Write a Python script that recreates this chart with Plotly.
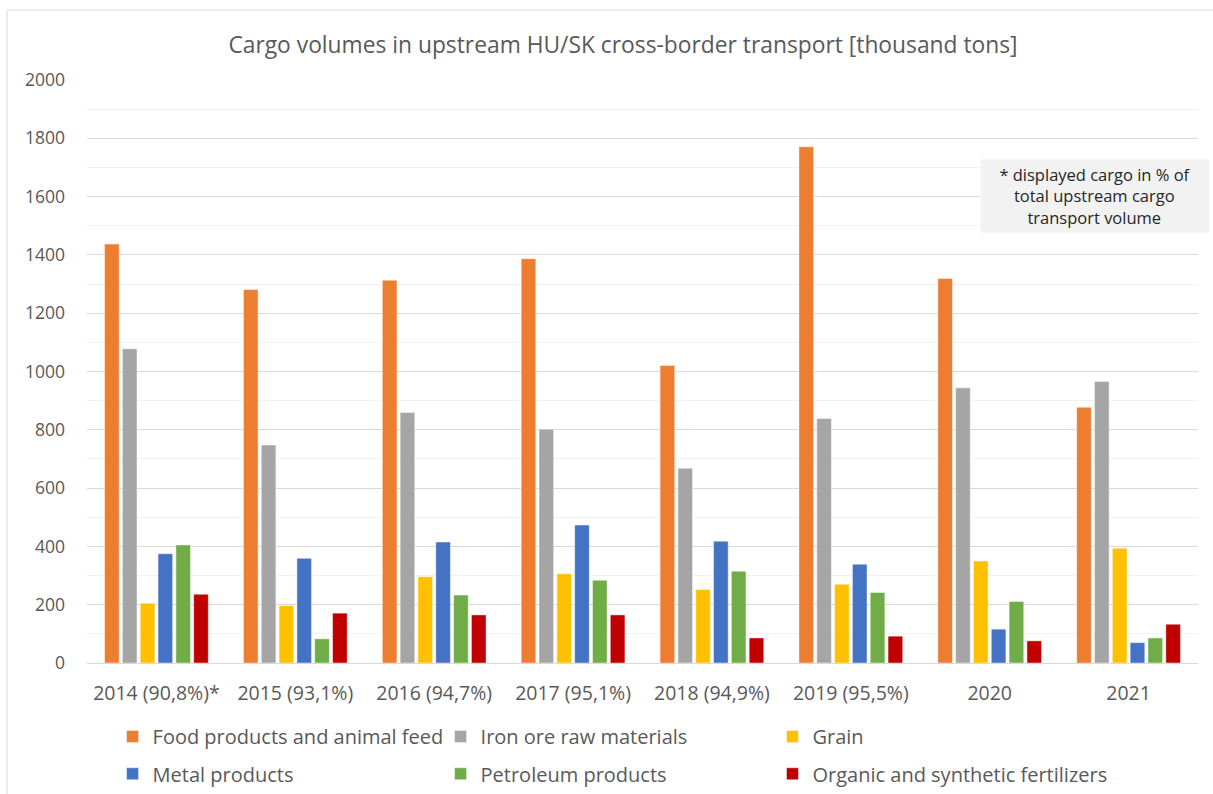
import plotly.graph_objects as go

categories = ["2014 (90,8%)*", "2015 (93,1%)", "2016 (94,7%)", "2017 (95,1%)",
              "2018 (94,9%)", "2019 (95,5%)", "2020", "2021"]

food = [1437, 1281, 1313, 1387, 1021, 1771, 1319, 877]
iron = [1078, 748, 859, 802, 668, 839, 944, 966]
grain = [205, 197, 296, 306, 252, 270, 350, 394]
metal = [375, 359, 415, 473, 418, 339, 116, 70]
petroleum = [405, 83, 233, 284, 315, 242, 211, 86]
fertilizers = [236, 171, 165, 165, 86, 92, 76, 133]

series_names = ["Food products and animal feed", "Iron ore raw materials", "Grain",
                "Metal products", "Petroleum products", "Organic and synthetic fertilizers"]
series_values = [food, iron, grain, metal, petroleum, fertilizers]
colors = ["#ED7D31", "#A5A5A5", "#FFC000", "#4472C4", "#70AD47", "#C00000"]
legends = ["legend", "legend", "legend3", "legend2", "legend2", "legend4"]

FONT = "Open Sans, Lato, sans-serif"
TXT = "#595959"

fig = go.Figure()
for name, vals, col, lg in zip(series_names, series_values, colors, legends):
    fig.add_trace(go.Bar(
        x=categories, y=vals, name=name,
        marker=dict(color=col, line=dict(color="rgba(255,255,255,0.6)", width=0.75)),
        legend=lg,
    ))

W, H = 1213, 794
L, R, T, B = 87, 15, 80, 131

ROW1, ROW2 = -0.126, -0.19
COL1, COL3 = 0.023, 0.617
leg_common = dict(orientation="h", xanchor="left", yanchor="middle",
                  font=dict(size=20, color=TXT), bgcolor="rgba(0,0,0,0)")

fig.update_layout(
    width=W, height=H,
    margin=dict(l=L, r=R, t=T, b=B, autoexpand=False),
    paper_bgcolor="white", plot_bgcolor="white",
    font=dict(family=FONT, color=TXT, size=18),
    barmode="group", bargap=0.23, bargroupgap=0.18,
    title=dict(text="Cargo volumes in upstream HU/SK cross-border transport [thousand tons]",
               x=0.5136, xanchor="center", y=1 - 45 / H, yanchor="middle",
               font=dict(size=22.8, color=TXT, family=FONT)),
    xaxis=dict(showgrid=False, showline=True, linecolor="#D9D9D9", linewidth=1,
               ticks="", ticklabelstandoff=13, tickfont=dict(size=19.5, color=TXT)),
    yaxis=dict(range=[0, 2000], dtick=200, tick0=0, showgrid=True, gridcolor="#D9D9D9",
               gridwidth=1, zeroline=False, showline=False, ticks="",
               ticklabelstandoff=21, tickfont=dict(size=17.5, color=TXT),
               minor=dict(dtick=100, showgrid=True, gridcolor="#F2F2F2", gridwidth=1)),
    legend=dict(x=COL1, y=ROW1, entrywidth=283, entrywidthmode="pixels", **leg_common),
    legend2=dict(x=COL1, y=ROW2, entrywidth=283, entrywidthmode="pixels", **leg_common),
    legend3=dict(x=COL3, y=ROW1, **leg_common),
    legend4=dict(x=COL3, y=ROW2, **leg_common),
    showlegend=True,
)

pw = W - L - R
ph = H - T - B


def px_x(p):
    return (p - L) / pw


def px_y(p):
    return (H - B - p) / ph


fig.add_annotation(
    xref="paper", yref="paper", x=px_x(1095), y=px_y(196),
    xanchor="center", yanchor="middle", showarrow=False,
    text="* displayed cargo in % of<br>total upstream cargo<br>transport volume",
    align="center", bgcolor="#F2F2F2", width=224, height=68, borderpad=2,
    font=dict(size=16.5, color="#262626", family=FONT),
)

# chart border (top and left)
fig.add_shape(type="line", xref="paper", yref="paper",
              x0=px_x(7), x1=px_x(1213), y0=px_y(10), y1=px_y(10),
              line=dict(color="#D9D9D9", width=1))
fig.add_shape(type="line", xref="paper", yref="paper",
              x0=px_x(7), x1=px_x(7), y0=px_y(10), y1=px_y(794),
              line=dict(color="#D9D9D9", width=1))

fig.write_html("out.html")
